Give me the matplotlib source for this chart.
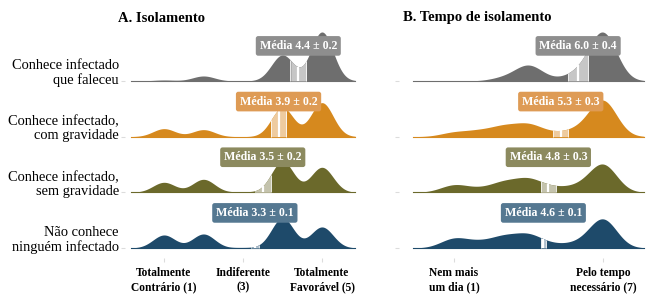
import numpy as np
import matplotlib
matplotlib.use("Agg")
import matplotlib.pyplot as plt
from matplotlib import transforms

plt.rcParams['font.family'] = ['Liberation Serif', 'DejaVu Serif']

# ---------------- data ----------------
groups = ["Não conhece\nninguém infectado",
          "Conhece infectado,\nsem gravidade",
          "Conhece infectado,\ncom gravidade",
          "Conhece infectado\nque faleceu"]

# Panel A: Likert 1..5 (relative frequencies)
levels_a = [1, 2, 3, 4, 5]
freq_a = {
    "blue":   [13, 14, 0.5, 30, 21],
    "olive":  [10, 13, 0.5, 31, 25],
    "orange": [8, 7, 0.0, 29, 34],
    "gray":   [1, 5, 0.0, 26, 49],
}
mean_a = [3.3, 3.5, 3.9, 4.4]
ci_a = [0.1, 0.2, 0.2, 0.2]

# Panel B: scale 1..7
levels_b = [1, 2, 3, 4, 5, 6, 7]
freq_b = {
    "blue":   [9, 5, 10, 12, 3, 4, 28],
    "olive":  [7, 3, 9, 12, 4, 5, 27],
    "orange": [4, 5, 9, 11, 3, 6, 35],
    "gray":   [0, 0, 3, 15, 1, 7, 47],
}
mean_b = [4.6, 4.8, 5.3, 6.0]
ci_b = [0.1, 0.3, 0.3, 0.4]

order = ["blue", "olive", "orange", "gray"]
fill_col = {"blue": "#1e4a6a", "olive": "#6b692b", "orange": "#d6891e", "gray": "#6e6e6e"}
box_col = {"blue": "#557891", "olive": "#8c8a5f", "orange": "#de9b55", "gray": "#8e8e8e"}
band_col = {"blue": "#aebfcd", "olive": "#c4c3ad", "orange": "#eecb9f", "gray": "#c6c6c6"}

ticks_a = [1, 3, 5]
ticklabels_a = ["Totalmente\nContrário (1)", "Indiferente\n(3)", "Totalmente\nFavorável (5)"]
ticks_b = [1, 7]
ticklabels_b = ["Nem mais\num dia (1)", "Pelo tempo\nnecessário (7)"]

titles = ["A. Isolamento", "B. Tempo de isolamento"]


def kde(levels, weights, grid, bw):
    lv = np.asarray(levels, float)[:, None]
    w = np.asarray(weights, float)[:, None]
    return (w * np.exp(-(grid[None, :] - lv) ** 2 / (2 * bw ** 2))).sum(axis=0)


W, H = 646, 297
fig = plt.figure(figsize=(W / 100, H / 100), dpi=100)

ylim = (-0.18, 4.0)
ax_a = fig.add_axes([124.5 / W, (H - 258) / H, 237 / W, 232.7 / H])
ax_b = fig.add_axes([399.4 / W, (H - 258) / H, 247 / W, 232.7 / H])


def draw_panel(ax, levels, freq, means, cis, bw, xlim, ticks, ticklabels):
    grid = np.linspace(min(levels) - 3 * bw, max(levels) + 3 * bw, 600)
    dens = {k: kde(levels, freq[k], grid, bw) for k in order}
    vmax = max(d.max() for d in dens.values())
    scale = 0.88 / vmax
    for i in reversed(range(len(order))):
        k = order[i]
        d = dens[k] * scale
        ax.fill_between(grid, i, i + d, color=fill_col[k], lw=0, zorder=10 - i)
        ax.plot(grid, np.full_like(grid, i), color=fill_col[k], lw=0.8, zorder=10 - i)
        m, c = means[i], cis[i]
        msk = (grid >= m - c) & (grid <= m + c)
        ax.fill_between(grid[msk], i, i + d[msk], color=band_col[k], lw=0, zorder=10.2 - i)
        for xv, lw in [(m - c, 0.6), (m + c, 0.6), (m, 1.6)]:
            yv = np.interp(xv, grid, d)
            ax.plot([xv, xv], [i, i + yv], color="white", lw=lw, zorder=10.3 - i,
                    solid_capstyle="butt")
        ax.text(m, i + 0.63, f"Média {m:.1f} ± {c:.1f}", ha="center", va="center",
                color="white", fontsize=8.6, fontweight="bold", zorder=20,
                bbox=dict(boxstyle="round,pad=0.32,rounding_size=0.2", fc=box_col[k],
                          ec="none"))
    ax.set_xlim(*xlim)
    ax.set_ylim(*ylim)
    ax.set_yticks(range(len(order)))
    ax.set_yticklabels([])
    ax.set_xticks(ticks)
    ax.set_xticklabels(ticklabels, fontsize=8.3, fontweight="bold", linespacing=1.3)
    ax.tick_params(axis="both", length=3, width=0.8, color="#dcdcdc", pad=3.5)
    for s in ax.spines.values():
        s.set_visible(False)
    ax.set_facecolor("none")


draw_panel(ax_a, levels_a, freq_a, mean_a, ci_a, 0.28, (0.0, 6.0), ticks_a, ticklabels_a)
draw_panel(ax_b, levels_b, freq_b, mean_b, ci_b, 0.55, (-1.2, 8.75), ticks_b, ticklabels_b)

# group labels on the left of panel A
tr = transforms.blended_transform_factory(ax_a.transAxes, ax_a.transData)
for i, g in enumerate(groups):
    ax_a.text(-5.5 / 237, i + 0.14, g, transform=tr, ha="right", va="center",
              fontsize=10.4, linespacing=1.1)

fig.text(118 / W, 1 - 18 / H, titles[0], ha="left", va="center", fontsize=10.5, fontweight="bold")
fig.text(403 / W, 1 - 18 / H, titles[1], ha="left", va="center", fontsize=10.5, fontweight="bold")

fig.savefig("out.png", dpi=100)
